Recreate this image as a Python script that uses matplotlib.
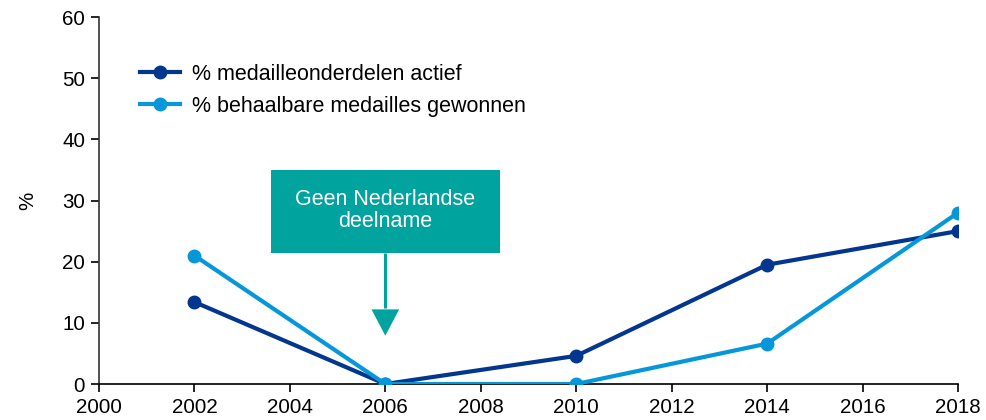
import matplotlib
matplotlib.use("Agg")
import matplotlib.pyplot as plt
from matplotlib.patches import Rectangle, Polygon

years = [2002, 2006, 2010, 2014, 2018]
actief = [13.4, 0.0, 4.6, 19.5, 25.0]
gewonnen = [21.0, 0.0, 0.0, 6.6, 28.0]
label_actief = "% medailleonderdelen actief"
label_gewonnen = "% behaalbare medailles gewonnen"
annotation_text = "Geen Nederlandse\ndeelname"
x_ticks = list(range(2000, 2019, 2))
y_ticks = list(range(0, 61, 10))

plt.rcParams["font.family"] = ["Liberation Sans", "DejaVu Sans"]

dark_blue = "#03368E"
light_blue = "#0597DA"
teal = "#00A39E"

fig = plt.figure(figsize=(9.87, 4.2), dpi=100)
ax = fig.add_axes([0.1003, 0.0857, 0.8703, 0.8738])

ax.plot(years, actief, color=dark_blue, lw=3, marker="o", ms=9, label=label_actief, zorder=3)
ax.plot(years, gewonnen, color=light_blue, lw=3, marker="o", ms=9, label=label_gewonnen, zorder=3)

ax.set_xlim(2000, 2018)
ax.set_ylim(0, 60)
ax.set_xticks(x_ticks)
ax.set_yticks(y_ticks)
ax.tick_params(axis="both", labelsize=14.8, length=6, width=1.2, direction="out", pad=4)
for s in ("top", "right"):
    ax.spines[s].set_visible(False)
for s in ("left", "bottom"):
    ax.spines[s].set_linewidth(1.2)
ax.spines["left"].set_color("#333333")
ax.set_ylabel("%", fontsize=14.8, labelpad=18)
ax.patch.set_alpha(0)
for sp in ax.spines.values():
    sp.set_clip_on(False)

ax.legend(loc="upper left", bbox_to_anchor=(0.0477, 0.872), frameon=False,
          fontsize=15.5, handlelength=1.86, handletextpad=0.56, labelspacing=0.5,
          borderpad=0, borderaxespad=0)

# annotation: box with arrow pointing at the 2006 gap
box_x0, box_x1 = 2003.6, 2008.4
box_y0, box_y1 = 21.4, 35.0
ax.add_patch(Rectangle((box_x0, box_y0), box_x1 - box_x0, box_y1 - box_y0,
                       fc=teal, ec="none", zorder=4, clip_on=False))
ax.text((box_x0 + box_x1) / 2, (box_y0 + box_y1) / 2 + 0.15, annotation_text,
        ha="center", va="center", color="white", fontsize=15.5, linespacing=1.05, zorder=5)
arrow_x = 2006.0
ax.plot([arrow_x, arrow_x], [box_y0, 12.5], color=teal, lw=2.2, zorder=4, solid_capstyle="butt")
ax.add_patch(Polygon([(arrow_x - 0.29, 12.2), (arrow_x + 0.29, 12.2), (arrow_x, 7.9)],
                     closed=True, fc=teal, ec="none", zorder=4))

fig.savefig("out.png", dpi=100)
